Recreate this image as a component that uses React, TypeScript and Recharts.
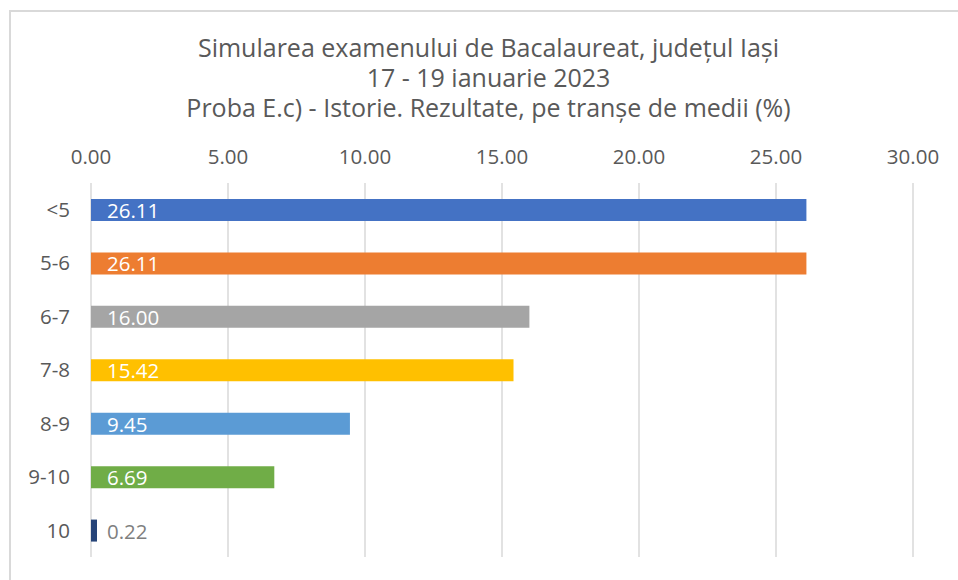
import React from 'react';
import { BarChart, Bar, XAxis, YAxis, CartesianGrid, Cell, LabelList } from 'recharts';

const categories = ['<5', '5-6', '6-7', '7-8', '8-9', '9-10', '10'];
const values = [26.11, 26.11, 16.0, 15.42, 9.45, 6.69, 0.22];
const barColors = ['#4472C4', '#ED7D31', '#A5A5A5', '#FFC000', '#5B9BD5', '#70AD47', '#264478'];
const xTicks = [0, 5, 10, 15, 20, 25, 30];
const titleLines = [
  'Simularea examenului de Bacalaureat, județul Iași',
  '17 - 19 ianuarie 2023',
  'Proba E.c) - Istorie. Rezultate, pe tranșe de medii (%)',
];

const data = categories.map((cat, i) => ({ cat, value: values[i] }));

const FONT = '"Open Sans", sans-serif';
const TEXT = '#595959';

const ValueLabel = (props: any) => {
  const { x, y, height, value } = props;
  const inside = value >= 1;
  return (
    <text
      x={x + 16}
      y={y + height / 2}
      dominantBaseline="central"
      fill={inside ? '#ffffff' : '#7f7f7f'}
      fontSize={20.5}
      fontFamily={FONT}
    >
      {Number(value).toFixed(2)}
    </text>
  );
};

const App: React.FC = () => {
  return (
    <div
      style={{
        position: 'fixed',
        left: 9,
        top: 10,
        width: 960,
        height: 580,
        background: '#fff',
        borderLeft: '2px solid #d9d9d9',
        borderTop: '2px solid #d9d9d9',
      }}
    >
      <div
        style={{
          position: 'absolute',
          left: 0,
          top: 20,
          width: 955,
          textAlign: 'center',
          fontFamily: FONT,
          fontSize: 25,
          lineHeight: '30px',
          color: TEXT,
        }}
      >
        {titleLines.map((t) => (
          <div key={t}>{t}</div>
        ))}
      </div>
      <div style={{ position: 'absolute', left: 0, top: 0 }}>
        <BarChart
          width={947}
          height={568}
          data={data}
          layout="vertical"
          margin={{ top: 140, right: 45, bottom: 23, left: 0 }}
        >
          <CartesianGrid horizontal={false} stroke="#d9d9d9" strokeWidth={1.5} />
          <XAxis
            type="number"
            orientation="top"
            domain={[0, 30]}
            ticks={xTicks}
            height={31}
            axisLine={false}
            tickLine={false}
            tickSize={0}
            tickMargin={19}
            tickFormatter={(v) => Number(v).toFixed(2)}
            tick={{ fill: TEXT, fontSize: 20.5, fontFamily: FONT }}
          />
          <YAxis
            type="category"
            dataKey="cat"
            width={80}
            axisLine={false}
            tickLine={false}
            tickSize={0}
            tickMargin={21}
            tick={{ fill: TEXT, fontSize: 20.5, fontFamily: FONT }}
          />
          <Bar dataKey="value" barSize={22} isAnimationActive={false}>
            {data.map((d, i) => (
              <Cell key={d.cat} fill={barColors[i]} />
            ))}
            <LabelList dataKey="value" content={ValueLabel} />
          </Bar>
        </BarChart>
      </div>
    </div>
  );
};

export default App;
